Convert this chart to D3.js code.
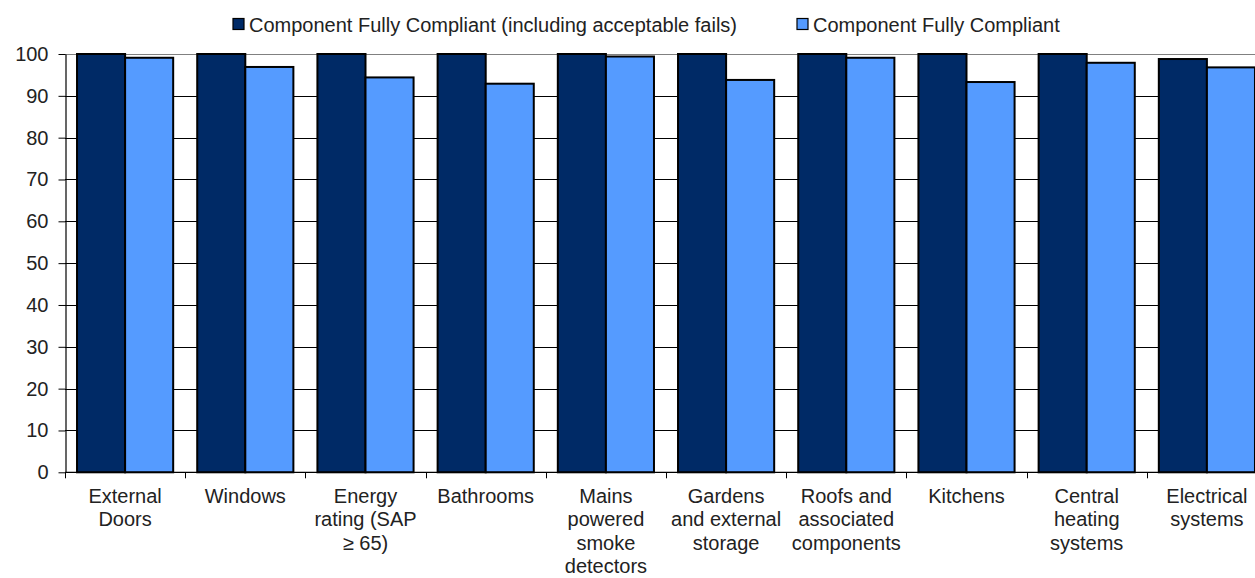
<!DOCTYPE html>
<html>
<head>
<meta charset="utf-8">
<script src="https://cdn.jsdelivr.net/npm/d3@7"></script>
<style>
  html, body { margin: 0; padding: 0; background: #fff; }
  svg { display: block; }
  text { font-family: "Liberation Sans", Arial, sans-serif; fill: #222; }
</style>
</head>
<body>
<svg id="chart" width="1255" height="578"></svg>
<script>
// Component compliance by category (%)
const categories = [
  ["External", "Doors"],
  ["Windows"],
  ["Energy", "rating (SAP", "\u2265 65)"],
  ["Bathrooms"],
  ["Mains", "powered", "smoke", "detectors"],
  ["Gardens", "and external", "storage"],
  ["Roofs and", "associated", "components"],
  ["Kitchens"],
  ["Central", "heating", "systems"],
  ["Electrical", "systems"]
];
const seriesNames = [
  "Component Fully Compliant (including acceptable fails)",
  "Component Fully Compliant"
];
const inclAcceptable = [100, 100, 100, 100, 100, 100, 100, 100, 100, 98.8];
const fullyCompliant = [99.1, 96.9, 94.4, 92.9, 99.4, 93.8, 99.1, 93.3, 97.9, 96.8];
const yTicks = [0, 10, 20, 30, 40, 50, 60, 70, 80, 90, 100];
const colors = ["#002A66", "#559BFF"];

const svg = d3.select("#chart");
const plot = { left: 65, right: 1267, top: 54, bottom: 472.3 };

const x = d3.scaleBand()
  .domain(d3.range(categories.length))
  .range([plot.left, plot.right])
  .paddingInner(0.2)
  .paddingOuter(0.1);
const step = x.step();
const x1 = d3.scaleBand().domain([0, 1]).range([0, x.bandwidth()]);
const y = d3.scaleLinear().domain([0, 100]).range([plot.bottom, plot.top]);

// Horizontal gridlines
svg.append("g")
  .selectAll("line")
  .data(yTicks.filter(d => d > 0))
  .join("line")
  .attr("x1", plot.left).attr("x2", plot.right)
  .attr("y1", d => Math.round(y(d)) + 0.5).attr("y2", d => Math.round(y(d)) + 0.5)
  .attr("stroke", d => d === 100 ? "#808080" : "#000")
  .attr("stroke-width", 1);

// Bars
const series = [inclAcceptable, fullyCompliant];
const groups = svg.append("g")
  .selectAll("g")
  .data(categories.map((c, i) => i))
  .join("g")
  .attr("transform", i => `translate(${x(i)},0)`);
groups.selectAll("rect")
  .data(i => series.map((s, k) => ({ k, v: s[i] })))
  .join("rect")
  .attr("x", d => x1(d.k))
  .attr("width", x1.bandwidth())
  .attr("y", d => y(d.v))
  .attr("height", d => y(0) - y(d.v))
  .attr("fill", d => colors[d.k])
  .attr("stroke", "#000")
  .attr("stroke-width", 2);

// Y axis
const yAxis = svg.append("g")
  .attr("transform", `translate(${plot.left + 0.5},0)`)
  .call(d3.axisLeft(y).tickValues(yTicks).tickSize(7).tickPadding(10).tickSizeOuter(0));
yAxis.select(".domain").attr("stroke", "#000").attr("stroke-width", 1.2);
yAxis.selectAll(".tick line").attr("stroke", "#000");
yAxis.selectAll(".tick text")
  .style("font-size", "20px")
  .attr("fill", "#222")
  .attr("font-family", "Liberation Sans, Arial, sans-serif");

// X axis line and category ticks
svg.append("line")
  .attr("x1", plot.left).attr("x2", plot.right)
  .attr("y1", plot.bottom).attr("y2", plot.bottom)
  .attr("stroke", "#000").attr("stroke-width", 1.2);
svg.append("g")
  .selectAll("line")
  .data(d3.range(categories.length + 1))
  .join("line")
  .attr("x1", i => Math.round(plot.left + i * step) + 0.5)
  .attr("x2", i => Math.round(plot.left + i * step) + 0.5)
  .attr("y1", plot.bottom).attr("y2", plot.bottom + 6)
  .attr("stroke", "#000");

// Category labels
const labels = svg.append("g")
  .selectAll("text")
  .data(categories)
  .join("text")
  .attr("text-anchor", "middle")
  .style("font-size", "20px")
  .attr("transform", (d, i) => `translate(${x(i) + x.bandwidth() / 2},503)`);
labels.selectAll("tspan")
  .data(d => d)
  .join("tspan")
  .attr("x", 0)
  .attr("y", (d, j) => j * 23.3)
  .text(d => d);

// Legend
const legendItems = [
  { name: seriesNames[0], color: colors[0], x: 233 },
  { name: seriesNames[1], color: colors[1], x: 797 }
];
const lg = svg.append("g")
  .selectAll("g")
  .data(legendItems)
  .join("g")
  .attr("transform", d => `translate(${d.x},18.5)`);
lg.append("rect")
  .attr("width", 11).attr("height", 11)
  .attr("fill", d => d.color)
  .attr("stroke", "#000").attr("stroke-width", 1.2);
lg.append("text")
  .attr("x", 16).attr("y", 13)
  .style("font-size", "20px")
  .text(d => d.name);
</script>
</body>
</html>
